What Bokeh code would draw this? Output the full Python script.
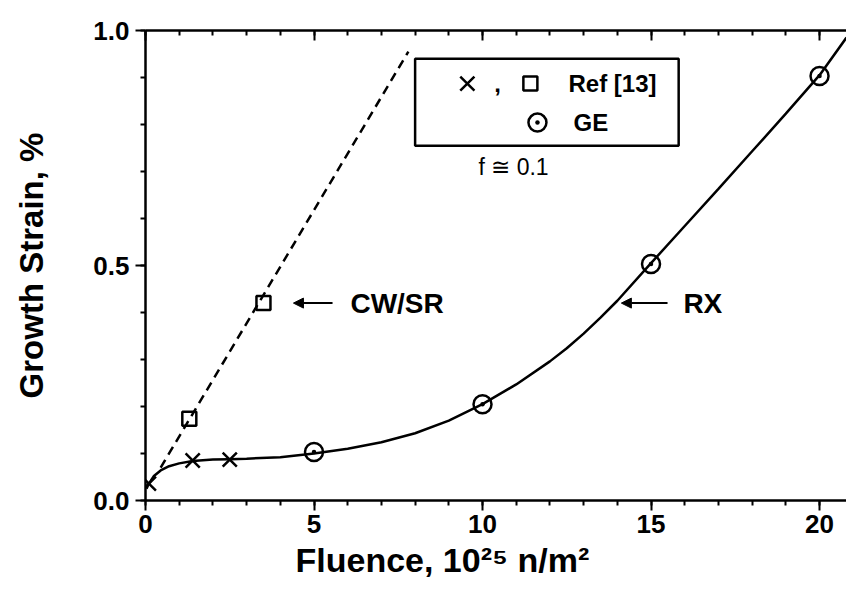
from bokeh.plotting import figure
from bokeh.models import (LinearAxis, Range1d, Label, Arrow, NormalHead, Title,
                          BoxAnnotation, SingleIntervalTicker, NumeralTickFormatter,
                          CustomJSTickFormatter)
from bokeh.embed import file_html
from bokeh.resources import INLINE

# ---------------- data ----------------
curve_x = [0.03, 0.1, 0.25, 0.45, 0.7, 1.0, 1.4, 2.0, 2.5, 3.0, 4.0, 5.0, 6.0, 7.0,
           8.0, 9.0, 10.0, 11.0, 12.0, 12.5, 13.0, 13.5, 14.0, 15.0, 16.0, 17.0,
           18.0, 19.0, 20.0, 20.8]
curve_y = [0.025, 0.036, 0.052, 0.064, 0.073, 0.079, 0.084, 0.087, 0.088, 0.089,
           0.092, 0.100, 0.110, 0.124, 0.143, 0.170, 0.205, 0.247, 0.296, 0.324,
           0.355, 0.389, 0.425, 0.505, 0.584, 0.663, 0.743, 0.823, 0.905, 0.985]

ref13_cross_x = [0.1, 1.4, 2.5]
ref13_cross_y = [0.036, 0.085, 0.087]
ref13_square_x = [1.3, 3.5]
ref13_square_y = [0.174, 0.42]
ge_x = [5, 10, 15, 20]
ge_y = [0.103, 0.205, 0.503, 0.903]
cwsr_line_x = [0.45, 7.8]
cwsr_line_y = [0.07, 0.955]

x_label = "Fluence, 10²⁵ n/m²"
y_label = "Growth Strain, %"

FONT = "Liberation Sans"

p = figure(width=846, height=600, output_backend="svg", toolbar_location=None,
           x_range=Range1d(0, 20.8), y_range=Range1d(0, 1.0),
           min_border_left=145, min_border_right=0, min_border_top=30,
           min_border_bottom=100)
p.outline_line_color = None
p.xgrid.visible = False
p.ygrid.visible = False
p.background_fill_color = "white"
p.border_fill_color = "white"

def style_axis(ax, label_size="26px"):
    ax.axis_line_width = 2.5
    ax.axis_line_color = "black"
    ax.major_tick_line_width = 2
    ax.minor_tick_line_width = 2
    ax.major_tick_line_color = "black"
    ax.minor_tick_line_color = "black"
    ax.major_label_text_font = FONT
    ax.major_label_text_font_style = "bold"
    ax.major_label_text_font_size = label_size
    ax.major_label_text_color = "black"
    ax.axis_label_text_font = FONT
    ax.axis_label_text_font_style = "bold"
    ax.axis_label_text_font_size = "33px"
    ax.axis_label_text_color = "black"

xa = p.xaxis[0]
xa.ticker = SingleIntervalTicker(interval=5, num_minor_ticks=5)
xa.formatter = NumeralTickFormatter(format="0")
style_axis(xa)
xa.major_tick_out = 10
xa.major_tick_in = 0
xa.minor_tick_out = 5
xa.minor_tick_in = 0
xa.major_label_standoff = 4

ya = p.yaxis[0]
ya.ticker = SingleIntervalTicker(interval=0.5, num_minor_ticks=5)
ya.formatter = NumeralTickFormatter(format="0.0")
style_axis(ya)
ya.major_tick_out = 10
ya.major_tick_in = 0
ya.minor_tick_out = 5
ya.minor_tick_in = 0
ya.major_label_standoff = 6
ya.axis_label = y_label
ya.axis_label_standoff = 40

top = LinearAxis(ticker=SingleIntervalTicker(interval=5, num_minor_ticks=5),
                 formatter=CustomJSTickFormatter(code="return ''"))
style_axis(top, label_size="1px")
top.major_tick_in = 10
top.major_tick_out = 0
top.minor_tick_in = 5
top.minor_tick_out = 0
top.major_label_standoff = 0
p.add_layout(top, "above")

# x-axis title, placed as in the original (left of the frame centre)
p.add_layout(Title(text=x_label, align="left", offset=150, standoff=6,
                   text_font=FONT, text_font_style="bold", text_font_size="34px",
                   text_color="black"), "below")

# ---------------- curves ----------------
p.line(curve_x, curve_y, line_color="black", line_width=2.5)
p.line(cwsr_line_x, cwsr_line_y, line_color="black", line_width=2.5, line_dash="9 6")

# ---------------- markers ----------------
p.scatter(ref13_cross_x, ref13_cross_y, marker="x", size=20, line_width=2.5,
          line_color="black")
p.scatter(ref13_square_x, ref13_square_y, marker="square", size=14, line_width=2.5,
          line_color="black", fill_color=None)
p.scatter(ge_x, ge_y, marker="circle_dot", size=18, line_width=2.5,
          line_color="black", fill_color=None)

# ---------------- annotations ----------------
for xs, xe, txt, tx in [(5.55, 4.39, "CW/SR", 6.08), (15.49, 14.12, "RX", 15.96)]:
    p.add_layout(Arrow(end=NormalHead(size=10, fill_color="black", line_color="black",
                                      line_width=1),
                       x_start=xs, y_start=0.42, x_end=xe, y_end=0.42,
                       line_width=2, line_color="black"))
    p.add_layout(Label(x=tx, y=0.42, text=txt, text_font=FONT, text_color="black",
                       text_font_style="bold", text_font_size="28px",
                       text_baseline="middle", text_align="left"))

# legend box (drawn by hand to match the original layout)
p.add_layout(BoxAnnotation(left=8.0, right=15.82, bottom=0.755, top=0.940,
                           fill_color=None, line_color="black", line_alpha=1.0,
                           line_width=2.5, level="underlay"))
p.scatter([9.55], [0.887], marker="x", size=20, line_width=2.5, line_color="black")
p.scatter([11.42], [0.887], marker="square", size=14, line_width=2.5,
          line_color="black", fill_color=None)
p.scatter([11.63], [0.804], marker="circle_dot", size=18, line_width=2.5,
          line_color="black", fill_color=None)
p.add_layout(Label(x=10.35, y=0.887, text=",", text_font=FONT, text_font_style="bold",
                   text_color="black", text_font_size="24px", text_baseline="middle"))
p.add_layout(Label(x=12.55, y=0.887, text="Ref [13]", text_font=FONT,
                   text_color="black", text_font_style="bold", text_font_size="24px",
                   text_baseline="middle"))
p.add_layout(Label(x=12.70, y=0.804, text="GE", text_font=FONT, text_color="black",
                   text_font_style="bold", text_font_size="24px",
                   text_baseline="middle"))
p.add_layout(Label(x=9.88, y=0.709, text="f ≅ 0.1", text_font=FONT,
                   text_color="black", text_font_size="23px", text_baseline="middle"))

open("out.html", "w").write(file_html(p, INLINE))
